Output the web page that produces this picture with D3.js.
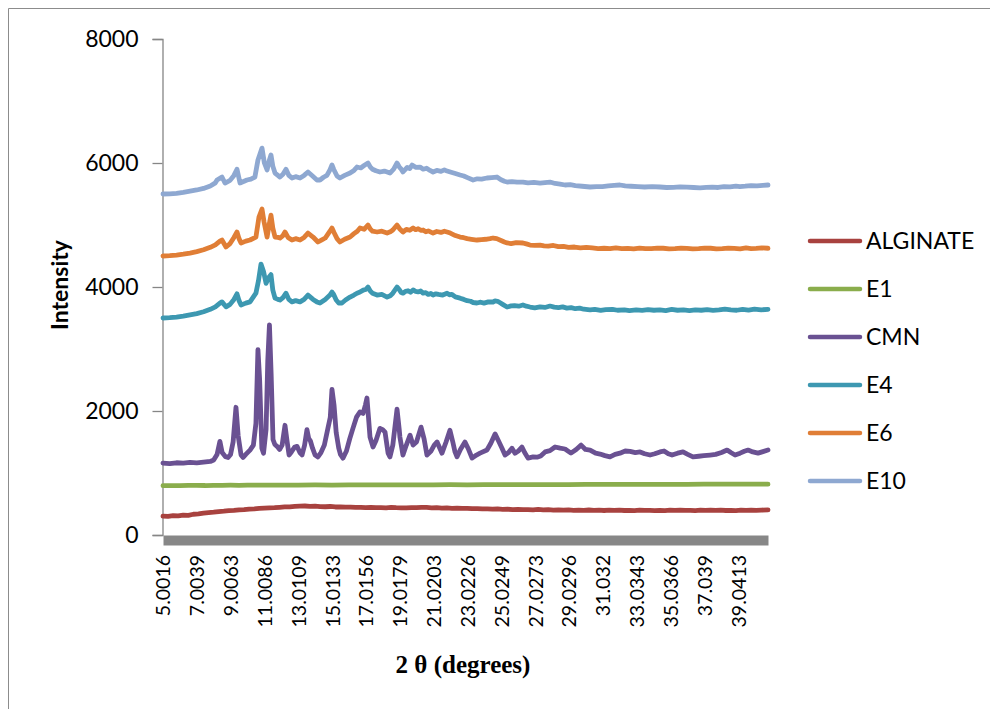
<!DOCTYPE html>
<html>
<head>
<meta charset="utf-8">
<script src="https://cdn.jsdelivr.net/npm/d3@7/dist/d3.min.js"></script>
<style>
  html, body { margin: 0; padding: 0; background: #ffffff; }
  svg { display: block; }
</style>
</head>
<body>
<svg id="chart" width="990" height="709"></svg>
<script>
// X-ray diffraction patterns: intensity versus 2θ (degrees)

// Category labels shown along the 2θ axis
const tickLabels = ["5.0016", "7.0039", "9.0063", "11.0086", "13.0109", "15.0133",
  "17.0156", "19.0179", "21.0203", "23.0226", "25.0249", "27.0273", "29.0296",
  "31.032", "33.0343", "35.0366", "37.039", "39.0413"];

const yTicks = [0, 2000, 4000, 6000, 8000];

const seriesNames = ["ALGINATE", "E1", "CMN", "E4", "E6", "E10"];
const seriesColors = ["#a8423f", "#8aad4c", "#6a5192", "#3d98b1", "#e07e36", "#8ea8d1"];

// [2θ, intensity] pairs for each sample
const alginate = [[5.00,305],[5.30,300],[5.60,312],[5.90,308],[6.20,322],[6.50,318],[6.80,335],[7.10,340],[7.40,352],[7.70,360],[8.00,368],[8.30,378],[8.60,384],[8.90,392],[9.20,396],[9.50,404],[9.80,408],[10.10,418],[10.40,420],[10.70,428],[11.00,432],[11.30,436],[11.60,440],[11.90,446],[12.20,452],[12.50,455],[12.80,462],[13.10,466],[13.40,468],[13.70,462],[14.00,466],[14.30,458],[14.60,456],[14.90,460],[15.20,452],[15.50,454],[15.80,448],[16.10,450],[16.40,444],[16.70,446],[17.00,440],[17.30,446],[17.60,442],[17.90,440],[18.20,438],[18.50,444],[18.80,440],[19.10,438],[19.40,436],[19.70,442],[20.00,440],[20.30,446],[20.60,444],[20.90,438],[21.20,440],[21.50,434],[21.80,436],[22.10,430],[22.40,432],[22.70,428],[23.00,430],[23.30,424],[23.60,426],[23.90,420],[24.20,422],[24.50,418],[24.80,420],[25.10,414],[25.40,416],[25.70,410],[26.00,412],[26.30,408],[26.60,410],[26.90,406],[27.20,412],[27.50,405],[27.80,408],[28.10,402],[28.40,405],[28.70,400],[29.00,404],[29.30,398],[29.60,402],[29.90,397],[30.20,403],[30.50,396],[30.80,400],[31.10,395],[31.40,400],[31.70,396],[32.00,402],[32.30,395],[32.60,398],[32.90,394],[33.20,400],[33.50,396],[33.80,396],[34.10,392],[34.40,398],[34.70,394],[35.00,400],[35.30,396],[35.60,402],[35.90,396],[36.20,398],[36.50,394],[36.80,400],[37.10,396],[37.40,402],[37.70,396],[38.00,400],[38.30,395],[38.60,398],[38.90,394],[39.20,402],[39.50,396],[39.80,400],[40.10,396],[40.40,402],[40.80,404]];

const e1 = [[5.00,795],[5.50,797],[6.00,796],[6.50,799],[7.00,800],[7.50,798],[8.00,802],[8.50,801],[9.00,803],[9.50,802],[10.00,805],[11.00,804],[12.00,806],[13.00,805],[14.00,808],[15.00,806],[16.00,808],[17.00,807],[18.00,810],[19.00,808],[20.00,810],[21.00,809],[22.00,811],[23.00,810],[24.00,812],[25.00,811],[26.00,812],[27.00,813],[28.00,814],[29.00,814],[30.00,815],[31.00,816],[32.00,816],[33.00,817],[34.00,818],[35.00,818],[36.00,818],[37.00,819],[38.00,820],[39.00,820],[40.00,821],[40.80,820]];

const cmn = [[5.00,1160],[5.40,1150],[5.80,1165],[6.20,1158],[6.60,1170],[7.00,1164],[7.40,1176],[7.80,1186],[8.00,1210],[8.20,1300],[8.37,1510],[8.50,1330],[8.70,1262],[8.85,1250],[9.00,1300],[9.15,1500],[9.32,2060],[9.45,1600],[9.62,1290],[9.74,1250],[9.90,1300],[10.15,1370],[10.35,1450],[10.50,1800],[10.62,2990],[10.72,2500],[10.85,1400],[10.95,1320],[11.10,1700],[11.20,2800],[11.30,3390],[11.40,2600],[11.51,1540],[11.62,1460],[11.75,1430],[11.90,1380],[12.05,1450],[12.22,1770],[12.35,1500],[12.46,1290],[12.60,1340],[12.80,1420],[12.93,1430],[13.10,1330],[13.23,1290],[13.38,1450],[13.52,1700],[13.62,1560],[13.72,1520],[13.85,1400],[14.00,1290],[14.17,1260],[14.35,1330],[14.55,1450],[14.76,1720],[14.90,1900],[15.00,2350],[15.12,2100],[15.25,1650],[15.40,1400],[15.50,1300],[15.65,1240],[15.85,1350],[16.05,1550],[16.24,1720],[16.45,1900],[16.66,1985],[16.84,1960],[16.98,2100],[17.07,2210],[17.16,1900],[17.25,1580],[17.43,1420],[17.60,1520],[17.84,1720],[18.00,1700],[18.14,1660],[18.32,1320],[18.43,1260],[18.60,1450],[18.85,2030],[18.98,1700],[19.02,1580],[19.20,1290],[19.40,1450],[19.62,1610],[19.80,1450],[20.00,1500],[20.27,1740],[20.45,1550],[20.62,1290],[20.85,1350],[21.05,1450],[21.22,1500],[21.51,1320],[21.75,1500],[21.98,1690],[22.15,1500],[22.28,1340],[22.40,1260],[22.60,1380],[22.87,1500],[23.05,1400],[23.29,1240],[23.55,1290],[23.76,1320],[24.17,1370],[24.40,1480],[24.65,1630],[24.85,1520],[25.06,1400],[25.24,1290],[25.45,1330],[25.65,1400],[25.83,1320],[26.05,1360],[26.24,1420],[26.40,1330],[26.60,1240],[26.90,1260],[27.13,1255],[27.35,1275],[27.61,1340],[27.90,1360],[28.20,1420],[28.50,1400],[28.79,1387],[29.14,1320],[29.45,1380],[29.74,1450],[30.00,1380],[30.27,1370],[30.60,1320],[30.86,1306],[31.15,1280],[31.45,1260],[31.75,1300],[32.04,1320],[32.35,1355],[32.64,1350],[32.95,1330],[33.23,1340],[33.50,1310],[33.82,1290],[34.10,1310],[34.41,1340],[34.65,1355],[34.90,1310],[35.12,1290],[35.45,1320],[35.77,1340],[36.05,1300],[36.36,1260],[36.70,1270],[37.00,1280],[37.37,1290],[37.70,1300],[38.05,1330],[38.38,1370],[38.60,1330],[38.85,1290],[39.15,1320],[39.40,1350],[39.62,1370],[39.90,1340],[40.21,1320],[40.50,1345],[40.80,1370]];

const e4 = [[5.00,3500],[5.40,3505],[5.80,3515],[6.20,3530],[6.60,3550],[7.00,3570],[7.40,3600],[7.80,3640],[8.10,3680],[8.37,3740],[8.49,3760],[8.73,3680],[8.97,3720],[9.20,3800],[9.38,3890],[9.50,3780],[9.62,3710],[9.90,3740],[10.15,3760],[10.50,3900],[10.65,4100],[10.80,4370],[10.95,4250],[11.10,4060],[11.25,4150],[11.39,4200],[11.50,3950],[11.63,3820],[11.80,3800],[11.92,3790],[12.10,3830],[12.28,3900],[12.45,3800],[12.63,3760],[12.85,3780],[13.11,3760],[13.35,3800],[13.58,3870],[13.88,3800],[14.11,3760],[14.29,3742],[14.60,3800],[14.88,3870],[15.00,3919],[15.10,3880],[15.25,3790],[15.40,3742],[15.59,3742],[15.80,3790],[16.07,3838],[16.30,3870],[16.48,3900],[16.66,3919],[16.85,3950],[17.00,3960],[17.13,4000],[17.28,3930],[17.40,3900],[17.67,3870],[17.95,3880],[18.26,3838],[18.45,3860],[18.60,3900],[18.85,4000],[19.00,3950],[19.10,3910],[19.20,3900],[19.35,3930],[19.50,3940],[19.65,3915],[19.80,3952],[19.95,3930],[20.10,3920],[20.25,3935],[20.39,3900],[20.55,3910],[20.70,3880],[20.85,3895],[20.98,3870],[21.15,3890],[21.30,3880],[21.55,3870],[21.81,3900],[21.95,3875],[22.10,3880],[22.30,3840],[22.58,3820],[22.80,3800],[23.00,3780],[23.20,3770],[23.35,3750],[23.58,3742],[23.80,3755],[24.00,3740],[24.25,3760],[24.53,3758],[24.65,3775],[24.80,3770],[24.95,3745],[25.10,3720],[25.36,3677],[25.60,3695],[25.80,3700],[26.05,3690],[26.30,3710],[26.50,3690],[26.72,3677],[27.00,3665],[27.31,3680],[27.60,3670],[27.90,3693],[28.15,3675],[28.40,3668],[28.65,3680],[28.90,3660],[29.15,3668],[29.40,3650],[29.65,3660],[29.90,3642],[30.27,3630],[30.55,3640],[30.90,3622],[31.20,3635],[31.60,3640],[31.90,3625],[32.30,3632],[32.60,3620],[33.00,3630],[33.35,3622],[33.70,3635],[34.05,3625],[34.40,3630],[34.75,3620],[35.10,3638],[35.45,3625],[35.80,3630],[36.15,3620],[36.50,3632],[36.85,3625],[37.20,3635],[37.55,3624],[37.90,3630],[38.25,3642],[38.60,3632],[38.95,3625],[39.30,3640],[39.65,3628],[40.00,3642],[40.40,3632],[40.80,3640]];

const e6 = [[5.00,4500],[5.40,4505],[5.80,4515],[6.20,4530],[6.60,4548],[7.00,4570],[7.40,4600],[7.80,4640],[8.10,4680],[8.37,4740],[8.49,4758],[8.73,4645],[8.97,4700],[9.20,4800],[9.38,4887],[9.50,4780],[9.62,4710],[9.90,4740],[10.15,4758],[10.50,4806],[10.68,5129],[10.86,5258],[10.98,5050],[11.16,4806],[11.28,5000],[11.39,5160],[11.50,4950],[11.63,4806],[11.80,4800],[11.92,4790],[12.10,4830],[12.22,4887],[12.40,4800],[12.63,4758],[12.85,4780],[13.11,4758],[13.35,4800],[13.58,4870],[13.88,4806],[14.17,4726],[14.40,4760],[14.60,4790],[14.88,4900],[15.00,4952],[15.12,4880],[15.30,4780],[15.47,4726],[15.75,4770],[16.07,4806],[16.30,4860],[16.50,4900],[16.66,4952],[16.90,4930],[17.13,5000],[17.28,4930],[17.40,4900],[17.67,4887],[17.95,4900],[18.26,4870],[18.45,4890],[18.60,4920],[18.85,5000],[19.00,4940],[19.20,4887],[19.40,4930],[19.60,4915],[19.80,4952],[19.95,4925],[20.10,4940],[20.25,4915],[20.39,4919],[20.55,4890],[20.70,4905],[20.98,4870],[21.20,4895],[21.45,4880],[21.65,4900],[21.81,4887],[22.00,4870],[22.30,4830],[22.58,4806],[22.80,4795],[23.00,4780],[23.25,4770],[23.58,4758],[23.85,4765],[24.10,4770],[24.35,4780],[24.53,4790],[24.75,4780],[25.00,4750],[25.20,4725],[25.36,4710],[25.60,4700],[25.90,4715],[26.30,4710],[26.50,4695],[26.72,4677],[27.00,4670],[27.31,4677],[27.55,4665],[27.80,4660],[28.10,4670],[28.40,4650],[28.70,4655],[29.00,4640],[29.35,4645],[29.70,4632],[30.05,4638],[30.40,4630],[30.75,4620],[31.10,4625],[31.45,4618],[31.80,4630],[32.15,4620],[32.50,4622],[32.85,4615],[33.20,4628],[33.55,4618],[33.90,4620],[34.25,4628],[34.60,4625],[34.95,4615],[35.30,4618],[35.65,4626],[36.00,4622],[36.35,4615],[36.70,4620],[37.05,4628],[37.40,4625],[37.75,4616],[38.10,4618],[38.45,4626],[38.80,4622],[39.15,4615],[39.50,4630],[39.80,4620],[40.10,4622],[40.45,4630],[40.80,4625]];

const e10 = [[5.00,5500],[5.40,5502],[5.80,5510],[6.20,5525],[6.60,5545],[7.00,5565],[7.40,5590],[7.80,5630],[8.10,5680],[8.20,5726],[8.49,5774],[8.67,5677],[8.97,5720],[9.20,5800],[9.38,5900],[9.56,5677],[9.97,5726],[10.20,5740],[10.44,5774],[10.62,6048],[10.86,6240],[11.00,6000],[11.16,5887],[11.30,6050],[11.39,6130],[11.50,5950],[11.63,5838],[11.80,5800],[11.92,5774],[12.10,5820],[12.28,5900],[12.45,5800],[12.63,5758],[12.85,5780],[13.11,5758],[13.35,5800],[13.58,5855],[13.85,5790],[14.11,5726],[14.29,5726],[14.50,5770],[14.70,5800],[14.88,5890],[15.00,5968],[15.10,5900],[15.30,5790],[15.47,5758],[15.75,5800],[16.07,5838],[16.30,5880],[16.48,5935],[16.70,5920],[16.90,5960],[17.13,6000],[17.28,5930],[17.40,5900],[17.60,5875],[17.84,5855],[18.10,5870],[18.43,5838],[18.65,5900],[18.85,6000],[19.00,5930],[19.10,5900],[19.20,5855],[19.45,5930],[19.60,5910],[19.74,5968],[19.95,5930],[20.21,5935],[20.40,5900],[20.60,5915],[20.80,5880],[20.98,5855],[21.20,5880],[21.45,5865],[21.65,5890],[21.81,5870],[22.05,5850],[22.30,5830],[22.58,5806],[22.80,5790],[23.05,5760],[23.35,5726],[23.60,5745],[23.85,5740],[24.17,5758],[24.45,5765],[24.76,5774],[25.00,5730],[25.20,5705],[25.36,5693],[25.65,5700],[25.95,5690],[26.30,5693],[26.60,5680],[26.95,5688],[27.31,5677],[27.60,5685],[27.90,5693],[28.20,5670],[28.50,5660],[28.79,5645],[29.10,5650],[29.40,5635],[29.80,5625],[30.27,5613],[30.65,5618],[31.00,5620],[31.35,5630],[31.70,5638],[32.04,5645],[32.35,5630],[32.70,5625],[33.10,5618],[33.50,5613],[33.95,5620],[34.41,5613],[34.80,5605],[35.20,5608],[35.60,5615],[36.00,5612],[36.40,5605],[36.78,5600],[37.15,5608],[37.50,5612],[37.85,5605],[38.20,5620],[38.55,5615],[38.90,5628],[39.14,5620],[39.45,5626],[39.80,5635],[40.15,5630],[40.50,5640],[40.80,5645]];

const seriesData = [alginate, e1, cmn, e4, e6, e10];

const svg = d3.select("#chart");
const plot = { left: 163, right: 768, top: 39, bottom: 535 };

const x = d3.scaleLinear().domain([5.0016, 40.8]).range([plot.left, plot.right]);
const y = d3.scaleLinear().domain([0, 8000]).range([plot.bottom, plot.top]);

const font = "Lato, 'Open Sans', sans-serif";

// Chart frame (top and left edges visible)
svg.append("path")
  .attr("d", "M8.5,709 V8.5 H990")
  .attr("fill", "none")
  .attr("stroke", "#8c8c8c")
  .attr("stroke-width", 1);

// Y axis
const yAxis = d3.axisLeft(y).tickValues(yTicks).tickSize(10).tickPadding(14).tickFormat(d3.format("d"));
const yg = svg.append("g").attr("transform", `translate(${plot.left - 0.5},0)`).call(yAxis);
yg.select(".domain").attr("stroke", "#868686").attr("stroke-width", 1.3);
yg.selectAll(".tick line").attr("stroke", "#868686").attr("stroke-width", 1.3);
yg.selectAll(".tick text").attr("font-family", font).attr("font-size", 23).attr("fill", "#000");

// Category axis drawn as a heavy grey bar
const xAxis = d3.axisBottom(x)
  .tickValues(tickLabels.map(Number))
  .tickSize(0)
  .tickFormat((d, i) => tickLabels[i]);
const xg = svg.append("g").attr("transform", `translate(0,${plot.bottom + 5})`).call(xAxis);
xg.select(".domain").attr("stroke", "#878787").attr("stroke-width", 10);
xg.selectAll(".tick text")
  .attr("font-family", font)
  .attr("font-size", 19.5)
  .attr("fill", "#000")
  .attr("text-anchor", "end")
  .attr("transform", "rotate(-90)")
  .attr("x", -15)
  .attr("y", 0)
  .attr("dy", "0.35em");

// Series lines
const line = d3.line().x(d => x(d[0])).y(d => y(d[1])).curve(d3.curveLinear);
const lines = svg.append("g").attr("class", "series");
seriesData.forEach((data, i) => {
  lines.append("path")
    .datum(data)
    .attr("d", line)
    .attr("fill", "none")
    .attr("stroke", seriesColors[i])
    .attr("stroke-width", 4.8)
    .attr("stroke-linejoin", "round")
    .attr("stroke-linecap", "round");
});

// Axis titles
svg.append("text")
  .attr("transform", "translate(68,285) rotate(-90)")
  .attr("text-anchor", "middle")
  .attr("font-family", font)
  .attr("font-weight", "bold")
  .attr("font-size", 23)
  .text("Intensity");

svg.append("text")
  .attr("x", 463)
  .attr("y", 673)
  .attr("text-anchor", "middle")
  .attr("font-family", "'Liberation Serif', 'Times New Roman', serif")
  .attr("font-weight", "bold")
  .attr("font-size", 25)
  .text("2 θ (degrees)");

// Legend
const legend = svg.append("g").attr("transform", "translate(808,241)");
seriesNames.forEach((name, i) => {
  const g = legend.append("g").attr("transform", `translate(0,${i * 48})`);
  g.append("line")
    .attr("x1", 2).attr("x2", 52).attr("y1", 0).attr("y2", 0)
    .attr("stroke", seriesColors[i])
    .attr("stroke-width", 4.5)
    .attr("stroke-linecap", "round");
  g.append("text")
    .attr("x", 58)
    .attr("y", 0)
    .attr("dy", "0.36em")
    .attr("font-family", font)
    .attr("font-size", 23)
    .attr("fill", "#000")
    .text(name);
});
</script>
</body>
</html>
